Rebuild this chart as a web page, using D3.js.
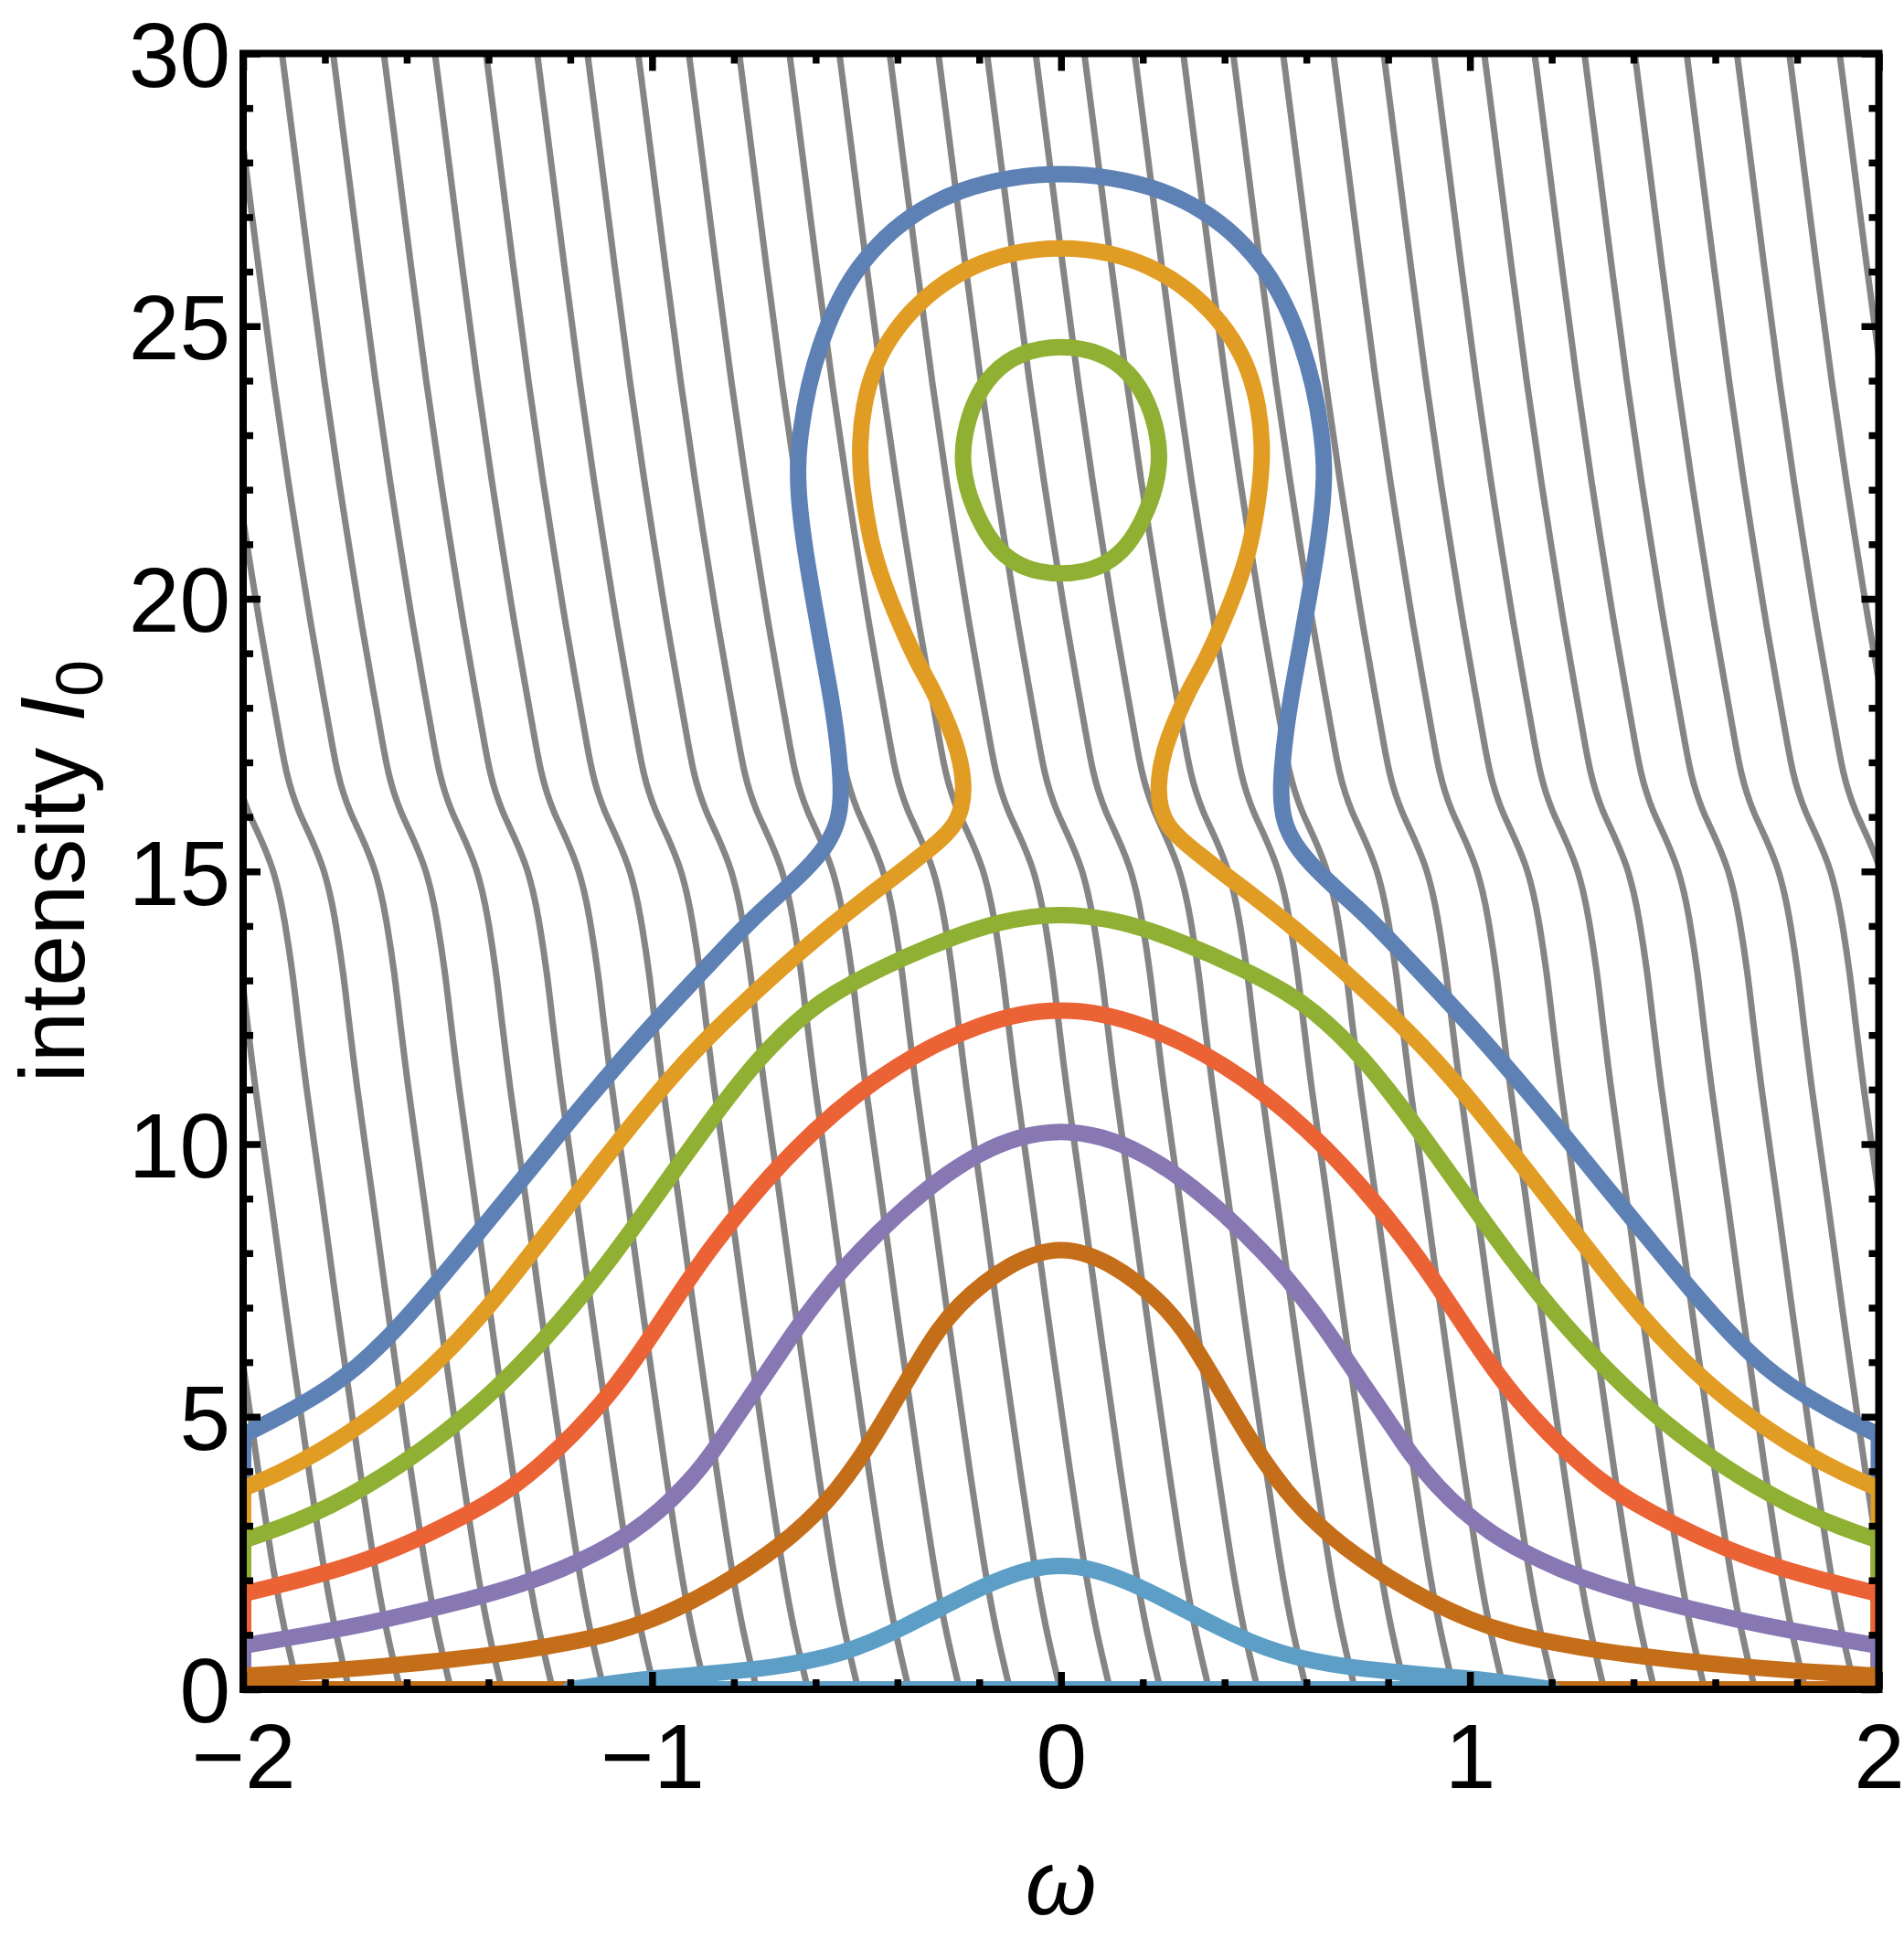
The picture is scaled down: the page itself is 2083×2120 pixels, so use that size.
<!DOCTYPE html>
<html><head><meta charset="utf-8">
<script src="https://cdn.jsdelivr.net/npm/d3@7"></script>
<style>body{margin:0;background:#fff} svg{display:block}</style>
</head><body>
<svg id="chart" width="2083" height="2120"></svg>
<script>
// ---------- data ----------
const xMajorTicks = [-2, -1, 0, 1, 2];
const xTickLabels = ["\u22122", "\u22121", "0", "1", "2"];
const xMinorTicks = [-1.8,-1.6,-1.4,-1.2,-0.8,-0.6,-0.4,-0.2,0.2,0.4,0.6,0.8,1.2,1.4,1.6,1.8];
const yMajorTicks = [0, 5, 10, 15, 20, 25, 30];
const yTickLabels = ["0", "5", "10", "15", "20", "25", "30"];
const yMinorTicks = [1,2,3,4,6,7,8,9,11,12,13,14,16,17,18,19,21,22,23,24,26,27,28,29];

const seriesColors = ["#5E81B5", "#E19C24", "#8FB032", "#EB6235", "#8778B3", "#C56E1A", "#5D9EC7"];

// gray flow lines: common shape [I0, omega shift] and the omega of each line at I0 = 30
const grayShape = [[30,0],[28.6,0.024],[26,0.068],[24,0.103],[22,0.142],[20.92,0.165],[19.5,0.195],
  [18.24,0.225],[17.3,0.247],[16.8,0.26],[16.45,0.273],[16.1,0.29],[15.89,0.303],[15.5,0.327],
  [15.05,0.351],[14.6,0.366],[14.22,0.377],[13.1,0.40],[12.4,0.41],[11,0.433],[10,0.452],
  [9,0.471],[8,0.489],[7,0.507],[6,0.526],[5,0.545],[4,0.564],[3,0.584],[2,0.605],[1,0.630],[0,0.662]];
const grayOffsets = [-2.901,-2.776,-2.652,-2.527,-2.403,-2.278,-2.154,-2.029,
  -1.905,-1.780,-1.656,-1.531,-1.406,-1.281,-1.158,-1.034,-0.910,-0.787,-0.664,-0.542,-0.419,
  -0.300,-0.181,-0.062,0.057,0.180,0.299,0.421,0.543,0.666,0.789,0.912,1.035,1.158,1.280,
  1.403,1.530,1.653,1.781,1.904];

// colored curves, right half (omega >= 0); the picture is mirror-symmetric
const curveBlue = [[0,27.81],[0.12,27.74],[0.243,27.52],[0.35,27.12],[0.43,26.65],[0.50,26.05],
  [0.55,25.40],[0.59,24.65],[0.618,23.90],[0.637,23.10],[0.645,22.40],[0.640,21.70],[0.626,20.90],
  [0.607,20.05],[0.587,19.20],[0.567,18.40],[0.550,17.60],[0.540,16.90],[0.537,16.35],[0.545,15.90],
  [0.570,15.50],[0.620,15.05],[0.700,14.50],[0.759,14.10],[0.84,13.46],[0.918,12.84],[1.0,12.18],
  [1.08,11.50],[1.16,10.80],[1.24,10.07],[1.32,9.33],[1.40,8.60],[1.47,7.96],[1.538,7.35],[1.60,6.82],
  [1.66,6.34],[1.72,5.92],[1.78,5.58],[1.84,5.30],[1.90,5.04],[2.0,4.66]];
const curveOrange = [[0,26.46],[0.12,26.36],[0.22,26.10],[0.30,25.73],[0.365,25.30],[0.42,24.78],
  [0.46,24.20],[0.483,23.55],[0.493,22.85],[0.489,22.20],[0.477,21.55],[0.461,20.92],[0.437,20.35],
  [0.409,19.80],[0.38,19.30],[0.349,18.80],[0.318,18.40],[0.290,17.95],[0.262,17.45],[0.245,17.00],
  [0.237,16.56],[0.242,16.15],[0.262,15.82],[0.297,15.56],[0.345,15.27],[0.394,14.98],[0.483,14.48],
  [0.558,14.03],[0.64,13.51],[0.72,12.98],[0.80,12.42],[0.88,11.83],[0.96,11.17],[1.04,10.45],
  [1.12,9.69],[1.20,8.92],[1.28,8.15],[1.35,7.48],[1.42,6.84],[1.50,6.19],[1.58,5.62],[1.66,5.13],
  [1.74,4.71],[1.82,4.33],[1.91,3.97],[2.0,3.68]];
const curveGreen = [[0,14.25],[0.148,14.10],[0.297,13.71],[0.446,13.21],[0.558,12.76],[0.62,12.42],
  [0.68,12.02],[0.74,11.55],[0.80,11.00],[0.86,10.40],[0.92,9.78],[0.98,9.15],[1.04,8.52],[1.10,7.91],
  [1.16,7.33],[1.23,6.70],[1.30,6.13],[1.37,5.60],[1.44,5.12],[1.51,4.69],[1.58,4.30],[1.66,3.90],
  [1.74,3.55],[1.82,3.24],[1.91,2.96],[2.0,2.73]];
const curveGreenIsland = [[0,24.66],[0.1,24.52],[0.17,24.15],[0.215,23.6],[0.237,23.0],[0.242,22.55],
  [0.232,22.05],[0.205,21.5],[0.163,20.95],[0.11,20.63],[0.055,20.49],[0,20.45]];
const curveRed = [[0,12.47],[0.1,12.40],[0.2,12.18],[0.3,11.86],[0.4,11.44],[0.5,10.92],[0.6,10.28],
  [0.7,9.52],[0.78,8.82],[0.86,8.06],[0.93,7.30],[1.0,6.50],[1.06,5.85],[1.12,5.27],[1.19,4.70],
  [1.26,4.20],[1.33,3.76],[1.41,3.38],[1.49,3.06],[1.58,2.73],[1.67,2.45],[1.76,2.22],[1.85,2.03],
  [1.93,1.88],[2.0,1.75]];
const curvePurple = [[0,10.26],[0.1,10.15],[0.2,9.84],[0.3,9.35],[0.4,8.72],[0.5,7.98],[0.555,7.52],
  [0.62,6.90],[0.68,6.25],[0.74,5.58],[0.80,4.93],[0.86,4.25],[0.92,3.72],[0.98,3.28],[1.05,2.87],
  [1.13,2.52],[1.22,2.20],[1.32,1.92],[1.44,1.66],[1.57,1.42],[1.70,1.20],[1.85,0.99],[2.0,0.80]];
const curveBrown = [[0,8.08],[0.06,8.00],[0.12,7.80],[0.185,7.48],[0.25,7.05],[0.30,6.60],[0.35,6.00],
  [0.40,5.36],[0.45,4.73],[0.50,4.14],[0.55,3.64],[0.60,3.22],[0.66,2.81],[0.72,2.46],[0.80,2.05],
  [0.90,1.62],[1.00,1.27],[1.10,1.02],[1.20,0.86],[1.32,0.70],[1.48,0.55],[1.66,0.42],[1.83,0.32],
  [2.0,0.25]];
const curveLightBlue = [[0,2.29],[0.08,2.21],[0.163,1.98],[0.23,1.74],[0.30,1.47],[0.38,1.16],
  [0.465,0.86],[0.54,0.66],[0.615,0.52],[0.70,0.41],[0.815,0.32],[0.90,0.26],[0.98,0.21],
  [1.06,0.15],[1.13,0.08],[1.20,0.0]];

// ---------- drawing ----------
const svg = d3.select("#chart");
const L = 266, R = 2055.5, T = 58.5, B = 1848;
const x = d3.scaleLinear().domain([-2, 2]).range([L, R]);
const y = d3.scaleLinear().domain([0, 30]).range([B, T]);

svg.append("defs").append("clipPath").attr("id", "plotclip")
  .append("rect").attr("x", L).attr("y", T).attr("width", R - L).attr("height", B - T);

const plot = svg.append("g").attr("clip-path", "url(#plotclip)");

// gray lines
const grayLine = d3.line().x(d => x(d[0])).y(d => y(d[1])).curve(d3.curveBasis);
plot.append("g").selectAll("path").data(grayOffsets).join("path")
  .attr("d", c => grayLine(grayShape.map(p => [c + p[1], p[0]])))
  .attr("fill", "none").attr("stroke", "#858585").attr("stroke-width", 7);

const mirror = half => half.slice().reverse().map(p => [-p[0], p[1]]).concat(half.slice(1));
const smooth = d3.line().x(d => x(d[0])).y(d => y(d[1])).curve(d3.curveBasis);
const smoothClosed = d3.line().x(d => x(d[0])).y(d => y(d[1])).curve(d3.curveBasisClosed);
const straight = d3.line().x(d => x(d[0])).y(d => y(d[1]));

const curves = [
  {half: curveBlue, color: seriesColors[0]},
  {half: curveOrange, color: seriesColors[1]},
  {half: curveGreen, color: seriesColors[2], island: curveGreenIsland},
  {half: curveRed, color: seriesColors[3]},
  {half: curvePurple, color: seriesColors[4]},
  {half: curveBrown, color: seriesColors[5]},
  {half: curveLightBlue, color: seriesColors[6]}
];
const SW = 18;
curves.forEach(cv => {
  const g = plot.append("g");
  const full = mirror(cv.half);
  const first = full[0], last = full[full.length - 1];
  // branch along the boundary and the I0 = 0 line
  const edge = [first, [first[0], 0], [last[0], 0], last];
  g.append("path").attr("d", straight(edge)).attr("fill", "none")
    .attr("stroke", cv.color).attr("stroke-width", SW).attr("stroke-linejoin", "round");
  g.append("path").attr("d", smooth(full)).attr("fill", "none")
    .attr("stroke", cv.color).attr("stroke-width", SW).attr("stroke-linecap", "round").attr("stroke-linejoin", "round");
  if (cv.island) {
    const loop = mirror(cv.island).slice(0, -1);
    g.append("path").attr("d", smoothClosed(loop)).attr("fill", "none")
      .attr("stroke", cv.color).attr("stroke-width", SW);
  }
});

// axes (ticks inside the frame)
const FONT = "'Liberation Sans', Arial, Helvetica, sans-serif";
function styleAxis(g) {
  g.select(".domain").remove();
  g.selectAll(".tick line").attr("stroke", "#000").attr("stroke-width", 7.5);
  g.selectAll(".tick text").attr("fill", "#000").attr("font-size", 100).attr("font-family", FONT);
  g.attr("font-family", FONT);
}
const MAJ = 19, MIN = 11;
svg.append("g").attr("transform", `translate(0,${B})`)
  .call(d3.axisBottom(x).tickValues(xMinorTicks).tickSize(-MIN).tickFormat("")).call(styleAxis);
svg.append("g").attr("transform", `translate(0,${B})`)
  .call(d3.axisBottom(x).tickValues(xMajorTicks).tickSize(-MAJ).tickPadding(37)
    .tickFormat((d, i) => xTickLabels[i])).call(styleAxis);
svg.append("g").attr("transform", `translate(0,${T})`)
  .call(d3.axisTop(x).tickValues(xMinorTicks).tickSize(-MIN).tickFormat("")).call(styleAxis);
svg.append("g").attr("transform", `translate(0,${T})`)
  .call(d3.axisTop(x).tickValues(xMajorTicks).tickSize(-MAJ).tickFormat("")).call(styleAxis);
svg.append("g").attr("transform", `translate(${L},0)`)
  .call(d3.axisLeft(y).tickValues(yMinorTicks).tickSize(-MIN).tickFormat("")).call(styleAxis);
const yl = svg.append("g").attr("transform", `translate(${L},0)`)
  .call(d3.axisLeft(y).tickValues(yMajorTicks).tickSize(-MAJ).tickPadding(14)
    .tickFormat((d, i) => yTickLabels[i])).call(styleAxis);
yl.selectAll(".tick text").attr("dy", "0.358em");
svg.append("g").attr("transform", `translate(${R},0)`)
  .call(d3.axisRight(y).tickValues(yMinorTicks).tickSize(-MIN).tickFormat("")).call(styleAxis);
svg.append("g").attr("transform", `translate(${R},0)`)
  .call(d3.axisRight(y).tickValues(yMajorTicks).tickSize(-MAJ).tickFormat("")).call(styleAxis);

// frame
svg.append("rect").attr("x", L).attr("y", T).attr("width", R - L).attr("height", B - T)
  .attr("fill", "none").attr("stroke", "#000").attr("stroke-width", 8);

// axis labels
svg.append("text").attr("x", (L + R) / 2).attr("y", 2094).attr("text-anchor", "middle")
  .attr("font-family", FONT).attr("font-size", 100).attr("font-style", "italic").text("\u03c9");
const ylab = svg.append("text").attr("transform", `translate(92,${(T + B) / 2}) rotate(-90)`)
  .attr("text-anchor", "middle").attr("font-family", FONT).attr("font-size", 100);
ylab.append("tspan").text("intensity ");
ylab.append("tspan").attr("font-style", "italic").text("I");
ylab.append("tspan").attr("font-size", 72).attr("dy", 20).text("0");
</script>
</body></html>
